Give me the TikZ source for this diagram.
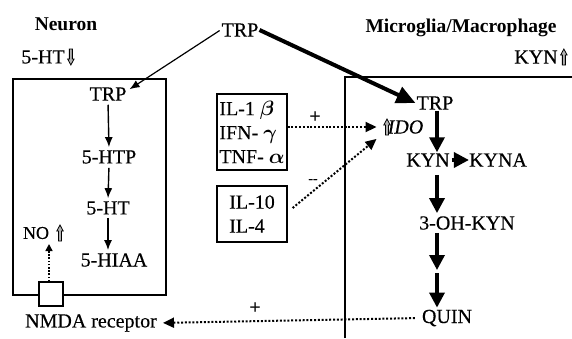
\documentclass[tikz,border=0pt]{standalone}
\usepackage{amsmath}
\usepackage{fontspec}
\setmainfont{Liberation Serif}
\newfontfamily\heavyserif{Liberation Serif}[FakeBold=0.35]
\usetikzlibrary{arrows.meta,calc}
\begin{document}
\begin{tikzpicture}[x=1pt,y=-1pt,
  lbl/.style={font=\heavyserif\fontsize{20}{24}\selectfont, inner sep=1pt},
  ttl/.style={font=\fontsize{19.5}{24}\selectfont\bfseries, inner sep=1pt},
  thinarr/.style={-{Latex[length=10pt,width=8pt]}, line width=1.4pt},
  thickarr/.style={-{Triangle[length=15pt,width=15pt]}, line width=3.4pt},
  dotarr/.style={dash pattern=on 2pt off 1.8pt, line width=2pt, -{Triangle[length=11pt,width=10pt]}},
  cellbox/.style={draw, line width=1.2pt},
  cytobox/.style={draw, line width=1.2pt, minimum width=70pt, align=left, inner sep=2pt,
    font=\heavyserif\fontsize{20}{24}\selectfont},
  uparr/.pic={\draw[line width=0.8pt, fill=gray!60] (-1.5,8) -- (-1.5,-2) -- (-3.2,-2) -- (0,-8) -- (3.2,-2) -- (1.5,-2) -- (1.5,8) -- cycle;},
  dnarr/.pic={\draw[line width=0.8pt, fill=gray!60] (-1.5,-8) -- (-1.5,2) -- (-3.2,2) -- (0,8) -- (3.2,2) -- (1.5,2) -- (1.5,-8) -- cycle;}
]
\useasboundingbox (0,0) rectangle (572,338);
\fill[white] (0,0) rectangle (572,338);

% titles
\node[ttl] (neuron) at (66,24) {Neuron};
\node[ttl] (micro) at (461,28) {Microglia/Macrophage};
\node[lbl] (ht) at (43,57) {5-HT};
\pic at ($(ht.east)+(5,0)$) {dnarr};
\node[lbl] (kynup) at (536,57) {KYN};
\pic at ($(kynup.east)+(5,0)$) {uparr};

% top TRP
\node[lbl] (topTRP) at (240,30) {TRP};

% neuron box
\draw[cellbox] (13,79) rectangle (166,295);
\node[lbl] (nTRP) at (108,94) {TRP};
\node[lbl] (n5HTP) at (109,157) {5-HTP};
\node[lbl] (n5HT) at (108,208) {5-HT};
\node[lbl] (n5HIAA) at (114,260) {5-HIAA};
\node[lbl, font=\heavyserif\fontsize{18}{20}\selectfont] (no) at (36,233) {NO};
\pic at (60,233) {uparr};
\node[draw, line width=1.2pt, fill=white, minimum size=24pt, inner sep=0pt] (sq) at (51,294) {};
\coordinate (noend) at (49,244);
\node[lbl] (nmda) at (91,323) {NMDA receptor};

\draw[thinarr, shorten <=3pt, shorten >=2pt] (nTRP.south) -- (n5HTP.north);
\draw[thinarr, shorten <=3pt, shorten >=2pt] (n5HTP.south) -- (n5HT.north);
\draw[thinarr, shorten <=2pt, shorten >=2pt] ([xshift=-6pt]n5HIAA.north |- n5HT.south) -- ([xshift=-6pt]n5HIAA.north);
\draw[dash pattern=on 1.6pt off 1.6pt, line width=1.6pt, -{Triangle[length=7pt,width=7pt]}] (sq.north -| noend) -- (noend);

% microglia region
\draw[line width=1.2pt] (345,338) -- (345,77) -- (572,77);
\coordinate (ax) at (437,0);
\node[lbl] (mTRP) at (435,103) {TRP};
\node[lbl, inner sep=2pt] (ido) at (401,127) {\hspace*{9pt}\itshape IDO};
\pic at (387,127) {uparr};
\node[lbl, inner sep=0pt] (kyn) at (428,160) {KYN};
\node[lbl, inner sep=0pt] (kyna) at (498,160) {KYNA};
\node[lbl] (oh) at (467,223) {3-OH-KYN};
\coordinate (mid) at (437,270);
\node[lbl] (quin) at (447,318) {QUIN};

\draw[thickarr] (mTRP.south -| ax) -- ([yshift=1pt]kyn.north -| ax);
\draw[thickarr, shorten <=2pt] (kyn.east) -- (kyna.west);
\draw[thickarr, shorten <=8pt] (kyn.south -| ax) -- ([yshift=2pt]oh.north -| ax);
\draw[thickarr, shorten <=2pt] (oh.south -| ax) -- (mid);
\draw[thickarr, shorten <=3pt] (mid) -- ([yshift=1pt]quin.north -| ax);

% TRP distribution
\draw[thinarr, line width=1.2pt, shorten <=1pt] (topTRP.west) -- ([xshift=2pt,yshift=-3pt]nTRP.north east);
\draw[line width=4pt, -{Triangle[length=19pt,width=17pt]}] (topTRP.east) -- (mTRP.west);

% cytokines
\node[cytobox, minimum height=76pt] (box1) at (252,132) {IL-1 $\boldsymbol{\beta}$\\IFN- $\boldsymbol{\gamma}$\\TNF- $\boldsymbol{\alpha}$};
\node[cytobox, minimum height=56pt] (box2) at (252,214) {IL-10\\IL-4};
\draw[dotarr] (box1.east |- ido.west) -- (ido.west);
\draw[dotarr] ([xshift=5pt,yshift=6pt]box2.east) -- ([yshift=-3pt]ido.south west);
\node[lbl] (plus1) at (315,117) {+};
\node[lbl, font=\heavyserif\fontsize{14}{16}\selectfont] (minus) at (313,181) {--};

% QUIN to NMDA
\draw[dotarr, shorten <=6pt, shorten >=5pt] (quin.west) -- (nmda.east);
\node[lbl] (plus2) at (255,308) {+};
\end{tikzpicture}
\end{document}
